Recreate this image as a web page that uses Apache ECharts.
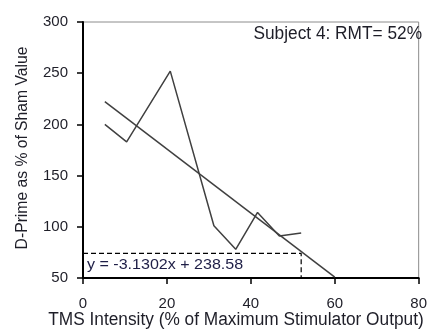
<!DOCTYPE html>
<html><head><meta charset="utf-8">
<script src="https://cdn.jsdelivr.net/npm/echarts@6/dist/echarts.min.js"></script>
<style>html,body{margin:0;padding:0;background:#fff}#c{width:430px;height:329px}</style>
</head><body><div id="c"></div>
<script>
const xValues = [5.2, 10.4, 20.8, 31.2, 36.4, 41.6, 46.8, 52];
const yValues = [200, 183, 252, 101, 78, 114, 91, 94];
const slope = -3.1302;
const intercept = 238.58;
const trendX = [5.2, 60];
const rmtX = 52;
const rmtY = 74;
const xTicks = [0, 20, 40, 60, 80];
const yTicks = [50, 100, 150, 200, 250, 300];
const titleText = 'Subject 4: RMT= 52%';
const eqText = 'y = -3.1302x + 238.58';
const xTitle = 'TMS Intensity (% of Maximum Stimulator Output)';
const yTitle = 'D-Prime as % of Sham Value';

const chart = echarts.init(document.getElementById('c'));
const font = 'Liberation Sans, Arial, sans-serif';
const txt = '#1e1e28';
chart.setOption({
  animation: false,
  grid: {left: 83, top: 22, right: 8, bottom: 51, show: true, borderColor: '#8c8c8c', borderWidth: 1},
  xAxis: {type: 'value', min: xTicks[0], max: xTicks[xTicks.length-1], interval: 20,
    axisLine: {onZero: false, lineStyle: {color: '#000', width: 2}},
    axisTick: {show: true, length: 6, lineStyle: {color: '#000', width: 1.5}},
    axisLabel: {margin: 18, color: txt, fontFamily: font, fontSize: 15},
    splitLine: {show: false}},
  yAxis: {type: 'value', min: yTicks[0], max: yTicks[yTicks.length-1], interval: 50,
    axisLine: {show: true, onZero: false, lineStyle: {color: '#000', width: 2}},
    axisTick: {show: true, length: 6, lineStyle: {color: '#000', width: 1.5}},
    axisLabel: {margin: 15, color: txt, fontFamily: font, fontSize: 15},
    splitLine: {show: false}},
  graphic: [
    {type: 'text', x: 422, y: 25, scaleX: 0.96, style: {text: titleText, fill: txt, font: '18px ' + font, align: 'right', verticalAlign: 'top'}},
    {type: 'text', x: 87, y: 257, scaleX: 1.07, style: {text: eqText, fill: '#1e1e46', font: '15px ' + font, align: 'left', verticalAlign: 'top'}},
    {type: 'text', x: 236, y: 320, scaleX: 0.96, style: {text: xTitle, fill: txt, font: '18px ' + font, align: 'center', verticalAlign: 'middle'}},
    {type: 'text', x: 23, y: 148, rotation: Math.PI/2, scaleX: 0.98, style: {text: yTitle, fill: txt, font: '16px ' + font, align: 'center', verticalAlign: 'middle'}}
  ],
  series: [
    {type: 'line', data: xValues.map((x, i) => [x, yValues[i]]), showSymbol: false,
      lineStyle: {color: '#404040', width: 1.5}, z: 3},
    {type: 'line', data: trendX.map(x => [x, slope * x + intercept]), showSymbol: false,
      lineStyle: {color: '#404040', width: 1.5}, z: 3},
    {type: 'line', data: [[0, rmtY], [rmtX, rmtY], [rmtX, yTicks[0]]], showSymbol: false,
      lineStyle: {color: '#000', width: 1.2, type: [5, 3]}, z: 2}
  ]
});
</script></body></html>
